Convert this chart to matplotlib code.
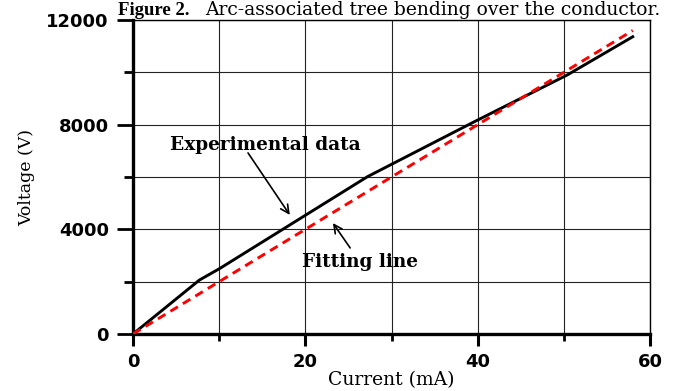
import matplotlib
matplotlib.use("Agg")
import matplotlib.pyplot as plt
from matplotlib.ticker import MultipleLocator, FixedLocator

# Data
exp_current = [0, 7.7, 10.1, 27.2, 39.6, 50.4, 58.0]
exp_voltage = [0, 2060, 2510, 6010, 8110, 9900, 11360]
fit_current = [0, 58.0]
fit_voltage = [0, 11600]
x_ticks = [0, 20, 40, 60]
y_ticks = [0, 4000, 8000, 12000]
title_bold = "Figure 2."
title_rest = "Arc-associated tree bending over the conductor."

fig = plt.figure(figsize=(6.73, 3.91), dpi=100)
ax = fig.add_axes([133/673, 1-334/391, (650-133)/673, (334-20)/391])

ax.plot(exp_current, exp_voltage, color="black", lw=2.1, solid_joinstyle="round", zorder=3)
ax.plot(fit_current, fit_voltage, color="#ff0000", lw=2.1, dashes=(3, 2), zorder=3)

ax.set_xlim(0, 60)
ax.set_ylim(0, 12000)
ax.xaxis.set_major_locator(FixedLocator(x_ticks))
ax.yaxis.set_major_locator(FixedLocator(y_ticks))
ax.xaxis.set_minor_locator(MultipleLocator(10))
ax.yaxis.set_minor_locator(MultipleLocator(2000))
ax.grid(True, which="both", color="#222222", lw=0.8, zorder=0)
ax.set_axisbelow(True)

for lab in ax.get_xticklabels() + ax.get_yticklabels():
    lab.set_fontfamily("DejaVu Sans")
    lab.set_fontweight("bold")
    lab.set_fontsize(13)
ax.tick_params(axis="y", which="major", length=11.5, width=2.0, direction="out", pad=6)
ax.tick_params(axis="y", which="minor", length=6.5, width=2.0, direction="out")
ax.tick_params(axis="x", which="major", length=8.5, width=2.2, direction="out", pad=5)
ax.tick_params(axis="x", which="minor", length=5, width=2.0, direction="out")
ax.spines["left"].set_linewidth(2.4)
ax.spines["bottom"].set_linewidth(2.4)
ax.spines["top"].set_linewidth(1.0)
ax.spines["right"].set_linewidth(1.0)

ax.set_xlabel("Current (mA)", fontfamily="DejaVu Serif", fontsize=13.5, labelpad=0)
ax.set_ylabel("Voltage (V)", fontfamily="DejaVu Serif", fontsize=12.5, labelpad=8)

ax.text(15.3, 7220, "Experimental data", fontfamily="DejaVu Serif", fontweight="bold",
        fontsize=13.3, ha="center", va="center")
ax.annotate("", xy=(18.2, 4550), xytext=(13.35, 6920),
            arrowprops=dict(arrowstyle="->", color="black", lw=1.2,
                            shrinkA=0, shrinkB=0, mutation_scale=15))
ax.text(26.4, 2770, "Fitting line", fontfamily="DejaVu Serif", fontweight="bold",
        fontsize=13.3, ha="center", va="center")
ax.annotate("", xy=(23.2, 4240), xytext=(25.2, 3290),
            arrowprops=dict(arrowstyle="->", color="black", lw=1.2,
                            shrinkA=0, shrinkB=0, mutation_scale=15))

fig.text(118/673, 1-15/391, title_bold, fontfamily="Liberation Serif", fontweight="bold",
         fontsize=13.5, ha="left", va="baseline")
fig.text(205/673, 1-15/391, title_rest, fontfamily="DejaVu Serif",
         fontsize=13.5, ha="left", va="baseline")

fig.savefig("out.png", dpi=100)
